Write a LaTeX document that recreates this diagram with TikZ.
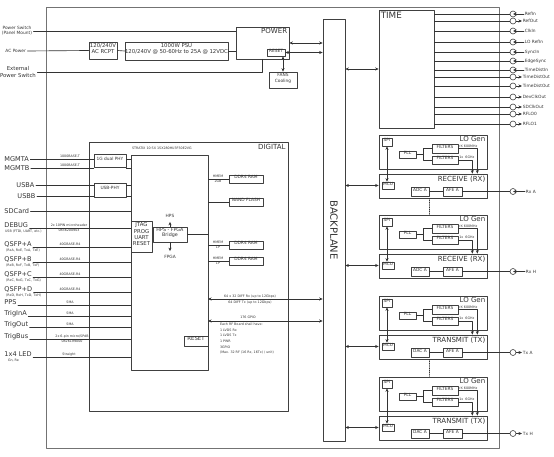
\documentclass[tikz,border=0pt]{standalone}
\usepackage{fontspec}
\setmainfont{DejaVu Sans}
\usetikzlibrary{arrows.meta}
\usetikzlibrary{positioning}
\usetikzlibrary{fit,calc}

\tikzset{
  blk/.style={draw=black!75, line width=0.55pt, inner sep=0pt, align=center},
  port/.style={circle, draw=black!75, line width=0.5pt, minimum size=0.18cm, inner sep=0pt},
  fbig/.style={font=\fontsize{5.6}{6.5}\selectfont, inner sep=1pt},
  ftitle/.style={font=\fontsize{6}{7}\selectfont},
  fmid/.style={font=\fontsize{4.6}{5.4}\selectfont},
  fsm/.style={font=\fontsize{3.7}{4.4}\selectfont},
  ftiny/.style={font=\fontsize{2.8}{3.4}\selectfont, inner sep=0.6pt},
}

\begin{document}
\begin{tikzpicture}[x=0.03cm, y=-0.03cm, line cap=round, line join=round,
    color=black!80, line width=0.55pt, >={Stealth[length=3pt,width=2.6pt]}]
\useasboundingbox (0,0) rectangle (554,457);

% Chassis and backplane
\node[blk, draw=black!55, line width=0.8pt, fit={(46,7) (499,448)}] (chassis) {};
\node[blk, fit={(323,19) (345,441)}] (bp) {};
\node[font=\fontsize{8.5}{9}\selectfont, rotate=-90] (bpt) at (bp.center) {BACKPLANE};

% Power
\node[blk, fit={(236,27) (289,59)}] (power) {};
\node[ftitle, anchor=north east, inner sep=1.5pt] (powert) at (power.north east) {POWER};
\node[blk, fit={(267,49) (285,56)}, fsm] (prst) {RESET};
\node[blk, fit={(269,72) (297,88)}, fsm] (fans) {FANS\\Cooling};
\node[blk, fit={(89,42) (117,59)}, fmid] (acr) {120/240V\\AC RCPT};
\node[blk, fit={(125,42) (228,60)}, fmid] (psu) {1000W PSU\\120/240V @ 50-60Hz to 25A @ 12VDC};
\node[fsm, align=center, inner sep=1pt] (pwsw) at (17,31) {Power Switch\\(Panel Mount)};
\node[fsm, anchor=west, inner sep=1pt] (acin) at (4,51) {AC Power};
\node[fmid, align=center, inner sep=1pt] (extsw) at (18,72) {External\\Power Switch};
\draw (pwsw.east) -- (pwsw.east -| power.west);
\draw (acin.east) -- (acr.west);
\draw (acr.east) -- (psu.west);
\draw (psu.east) -- (psu.east -| power.west);
\draw (extsw.east) -| (power.south);
\draw[<->] (power.east) -- (power.east -| bp.west);
\draw[<->] (prst.east) -- (prst.east -| bp.west);
\draw[<->] (fans.north) -- (fans.north |- prst.south);

% Timing
\node[blk, fit={(379,10) (434,128)}] (time) {};
\node[font=\fontsize{7.5}{8}\selectfont, anchor=north west, inner sep=1.5pt] (timet) at (time.north west) {TIME};
\draw[<->] (time.west) -- (time.west -| bp.east);
\foreach \n/\y/\lab in {a/14/RefIn, c/31/ClkIn, d/42/LO RefIn, e/52/SyncIn, f/61/EdgeSync, g/70/TimeDistIn}{
  \node[port] (p\n) at (513,\y) {};
  \node[fsm, anchor=west, inner sep=0.5pt] (l\n) at (524,\y) {\lab};
  \draw (time.east |- p\n) -- (p\n.west);
  \draw[->] (l\n.west) -- (p\n.center);
}
\foreach \n/\y/\lab in {b/21/RefOut, h/77/TimeDistOut, i/86/TimeDistOut, j/97/DevClkOut, k/107/SDClkOut, l/114/RFLO0, m/124/RFLO1}{
  \node[port] (p\n) at (513,\y) {};
  \node[fsm, anchor=west, inner sep=0.5pt] (l\n) at (522,\y) {\lab};
  \draw (time.east |- p\n) -- (p\n.west);
  \draw[->] (p\n.east) -- (l\n.west);
}

% Digital board
\node[blk, fit={(89,142) (288,411)}] (dig) {};
\node[ftitle, anchor=north east, inner sep=2pt] (digt) at (dig.north east) {DIGITAL};
\node[blk, fit={(131,155) (208,370)}] (fpga) {};
\node[ftiny, anchor=west] (fpgat) at (131,148) {STRATIX 10 SX 1SX280HU3F50E2VG};
\node[blk, fit={(94,154) (126,167)}, fsm] (gphy) {1G dual PHY};
\node[blk, fit={(94,183) (126,197)}, fsm] (uphy) {USB-PHY};
\node[blk, fit={(131,221) (152,252)}, fmid] (jtag) {JTAG\\PROG\\UART\\RESET};
\node[blk, fit={(153,227) (187,242)}, font=\fontsize{4.1}{5}\selectfont] (brdg) {HPS - FPGA\\Bridge};
\node[fsm] (hps) at (170,216) {HPS};
\node[fsm] (fpgal) at (170,257) {FPGA};
\draw[->] (brdg.north) -- (hps.south);
\draw[->] (brdg.south) -- (fpgal.north);
\draw (brdg.east) -- (brdg.east -| fpga.east);
\node[blk, fit={(184,336) (208,346)}, fmid] (frst) {RESET};

% Memories
\node[blk, fit={(229,175) (263,183)}, fsm] (ddra) {DDR4 RAM};
\node[blk, fit={(229,198) (263,206)}, fsm] (nand) {NAND FLASH};
\node[blk, fit={(229,241) (263,249)}, fsm] (ddrb) {DDR4 RAM};
\node[blk, fit={(229,257) (263,265)}, fsm] (ddrc) {DDR4 RAM};
\draw (ddra.west) -- (ddra.west -| fpga.east);
\draw (nand.west) -- (nand.west -| fpga.east);
\draw (ddrb.west) -- (ddrb.west -| fpga.east);
\draw (ddrc.west) -- (ddrc.west -| fpga.east);
\node[ftiny, anchor=south] (ddraa) at (218,179) {HMEM};
\node[ftiny, anchor=north] (ddrab) at (218,179) {2GB};
\node[ftiny, anchor=south] (ddrba) at (218,245) {HMEM};
\node[ftiny, anchor=north] (ddrbb) at (218,245) {1P};
\node[ftiny, anchor=south] (ddrca) at (218,261) {HMEM};
\node[ftiny, anchor=north] (ddrcb) at (218,261) {1P};

% FPGA <-> backplane
\coordinate (lvds) at (208,299);
\coordinate (gpio) at (208,321);
\draw[<->] (lvds) -- (lvds -| bp.west);
\draw[<->] (gpio) -- (gpio -| bp.west);
\node[ftiny, anchor=south] (lvdsa) at (250,299) {64 x 32 DIFF Rx (up to 12Gbps)};
\node[ftiny, anchor=north] (lvdsb) at (250,300) {64 DIFF Tx (up to 12Gbps)};
\node[ftiny, anchor=south] (gpiot) at (248,320) {176 GPIO};
\node[ftiny, font=\fontsize{2.8}{4.8}\selectfont, anchor=north west, align=left] (rfnote) at (219,322) {Each RF Board shall have:\\1 LVDS Rx\\1 LVDS Tx\\1 PWR\\3GPIO\\(Max. 32 RF (16 Rx, 16Tx) / unit)};

% Front panel I/O
\node[fbig, anchor=west] (mgmta) at (3,159) {MGMTA};
\node[fbig, anchor=west] (mgmtb) at (3,168) {MGMTB};
\node[fbig, anchor=west] (usba) at (15,185) {USBA};
\node[fbig, anchor=west] (usbb) at (16,196) {USBB};
\node[fbig, anchor=west] (sdc) at (3,211) {SDCard};
\node[fbig, anchor=base west] (dbg) at (3,228) {DEBUG};
\node[fbig, anchor=base west] (qa) at (3,247) {QSFP+A};
\node[fbig, anchor=base west] (qb) at (3,262) {QSFP+B};
\node[fbig, anchor=base west] (qc) at (3,277) {QSFP+C};
\node[fbig, anchor=base west] (qd) at (3,292) {QSFP+D};
\node[fbig, anchor=base west] (pps) at (3,305) {PPS};
\node[fbig, anchor=base west] (trin) at (3,316) {TrigInA};
\node[fbig, anchor=base west] (trout) at (3,327) {TrigOut};
\node[fbig, anchor=base west] (trbus) at (3,339) {TrigBus};
\node[fbig, anchor=base west] (led) at (3,357) {1x4 LED};
\node[ftiny, anchor=north west] (dbgs) at ($(dbg.base west)+(1,0.5)$) {USB (FTDI, UART, etc.)};
\node[ftiny, anchor=north west] (qas) at ($(qa.base west)+(2,1)$) {(RxA, RxE, TxA, TxE)};
\node[ftiny, anchor=north west] (qbs) at ($(qb.base west)+(2,1)$) {(RxB, RxF, TxB, TxF)};
\node[ftiny, anchor=north west] (qcs) at ($(qc.base west)+(2,1)$) {(RxC, RxG, TxC, TxG)};
\node[ftiny, anchor=north west] (qds) at ($(qd.base west)+(2,1)$) {(RxD, RxH, TxD, TxH)};
\node[ftiny, anchor=north west] (leds) at ($(led.base west)+(4,1.5)$) {Gn, Re};

\draw (mgmta.east) -- (mgmta.east -| gphy.west);
\draw (mgmtb.east) -- (mgmtb.east -| gphy.west);
\draw (gphy.east |- mgmta) -- (fpga.west |- mgmta);
\draw (gphy.east |- mgmtb) -- (fpga.west |- mgmtb);
\draw (usba.east) -- (usba.east -| uphy.west);
\draw (usbb.east) -- (usbb.east -| uphy.west);
\draw (uphy.east |- usba) -- (fpga.west |- usba);
\draw (uphy.east |- usbb) -- (fpga.west |- usbb);
\draw (sdc.east) -- (sdc.east -| fpga.west);
\draw (dbg.base east) -- (dbg.base east -| jtag.west);
\draw (qa.base east) -- (qa.base east -| fpga.west);
\draw (qb.base east) -- (qb.base east -| fpga.west);
\draw (qc.base east) -- (qc.base east -| fpga.west);
\draw (qd.base east) -- (qd.base east -| fpga.west);
\draw (pps.base east) -- (pps.base east -| fpga.west);
\draw (trin.base east) -- (trin.base east -| fpga.west);
\draw (trout.base east) -- (trout.base east -| fpga.west);
\draw (trbus.base east) -- (trbus.base east -| fpga.west);
\draw (led.base east) -- (led.base east -| fpga.west);

% Link labels on the front panel lines
\node[ftiny, anchor=south] (mgan) at (70,159) {1000BASE-T};
\node[ftiny, anchor=south] (mgbn) at (70,168) {1000BASE-T};
\node[ftiny, anchor=south] (dbga) at (69,228) {2x 10PIN microheader};
\node[ftiny, anchor=north] (dbgb) at (69,228) {0836200903};
\node[ftiny, anchor=south] (qan) at (70,247) {40GBASE-R4};
\node[ftiny, anchor=south] (qbn) at (70,262) {40GBASE-R4};
\node[ftiny, anchor=south] (qcn) at (70,277) {40GBASE-R4};
\node[ftiny, anchor=south] (qdn) at (70,292) {40GBASE-R4};
\node[ftiny, anchor=south] (ppsn) at (70,305) {SMA};
\node[ftiny, anchor=south] (trinn) at (70,316) {SMA};
\node[ftiny, anchor=south] (troutn) at (70,327) {SMA};
\node[ftiny, anchor=south] (trbusa) at (72,339) {2x 6-pin micro/SPdB};
\node[ftiny, anchor=north] (trbusb) at (72,339) {0826199000};
\node[ftiny, anchor=south] (ledn) at (69,357) {Straight};

% RF boards
\foreach \g/\y/\kind/\conv in {1/135/{RECEIVE (RX)}/ADC A, 2/215/{RECEIVE (RX)}/ADC A, 3/296/{TRANSMIT (TX)}/DAC A, 4/377/{TRANSMIT (TX)}/DAC A}{
  \node[blk, fit={(379,\y) (487,\y+34)}] (lo\g) {};
  \node[ftitle, anchor=north east, inner sep=1.5pt] (lot\g) at (lo\g.north east) {LO Gen};
  \node[blk, fit={(382,\y+3) (392,\y+11)}, fsm] (spi\g) {SPI};
  \node[blk, fit={(399,\y+16) (416,\y+23)}, fsm] (pll\g) {PLL};
  \node[blk, fit={(432,\y+9) (458,\y+18)}, fsm] (fa\g) {FILTERS};
  \node[blk, fit={(432,\y+21) (458,\y+29)}, fsm] (fb\g) {FILTERS};
  \node[ftiny, anchor=south west] (fal\g) at (fa\g.east) {rX 600MHz};
  \node[ftiny, anchor=south west] (fbl\g) at (fb\g.east) {1x ~6GHz};
  \node[blk, fit={(379,\y+39) (487,\y+63)}] (rf\g) {};
  \node[ftitle, anchor=north east, inner sep=1.5pt] (rft\g) at (rf\g.north east) {\kind};
  \node[blk, fit={(382,\y+47) (394,\y+54)}, fsm] (mcu\g) {MCU};
  \node[blk, fit={(411,\y+52) (429,\y+61)}, fsm] (cv\g) {\conv};
  \node[blk, fit={(443,\y+52) (462,\y+61)}, fsm] (afe\g) {AFE A};
  \draw (pll\g.east) -- ++(7,0) |- (fa\g.west);
  \draw (pll\g.east) ++(7,0) |- (fb\g.west);
  \draw[->] (fa\g.east) -| ($(rf\g.north east)+(-10,0)$);
  \draw[->] (fb\g.east) -| ($(rf\g.north east)+(-15,0)$);
  \draw[<->] (spi\g.south) -- (spi\g.south |- mcu\g.north);
  \draw (cv\g.east) -- (afe\g.west);
  \draw[<->] (bp.east |- mcu\g) -- (rf\g.west |- mcu\g);
}
\draw[densely dotted] (cv1.east |- rf1.south) -- (cv1.east |- lo2.north);
\draw[densely dotted] (cv3.east |- rf3.south) -- (cv3.east |- lo4.north);

% RF connectors
\node[port] (prxa) at (513,191.5) {};
\node[port] (prxh) at (513,271.5) {};
\node[port] (ptxa) at (513,352.5) {};
\node[port] (ptxh) at (513,433.5) {};
\node[fsm, anchor=west, inner sep=0.5pt] (lrxa) at (525,191.5) {Rx A};
\node[fsm, anchor=west, inner sep=0.5pt] (lrxh) at (525,271.5) {Rx H};
\node[fsm, anchor=west, inner sep=0.5pt] (ltxa) at (522,352.5) {Tx A};
\node[fsm, anchor=west, inner sep=0.5pt] (ltxh) at (522,433.5) {Tx H};
\draw (afe1.east) -- (prxa.west);
\draw (afe2.east) -- (prxh.west);
\draw (afe3.east) -- (ptxa.west);
\draw (afe4.east) -- (ptxh.west);
\draw[->] (lrxa.west) -- (prxa.center);
\draw[->] (lrxh.west) -- (prxh.center);
\draw[->] (ptxa.east) -- (ltxa.west);
\draw[->] (ptxh.east) -- (ltxh.west);
\end{tikzpicture}
\end{document}
